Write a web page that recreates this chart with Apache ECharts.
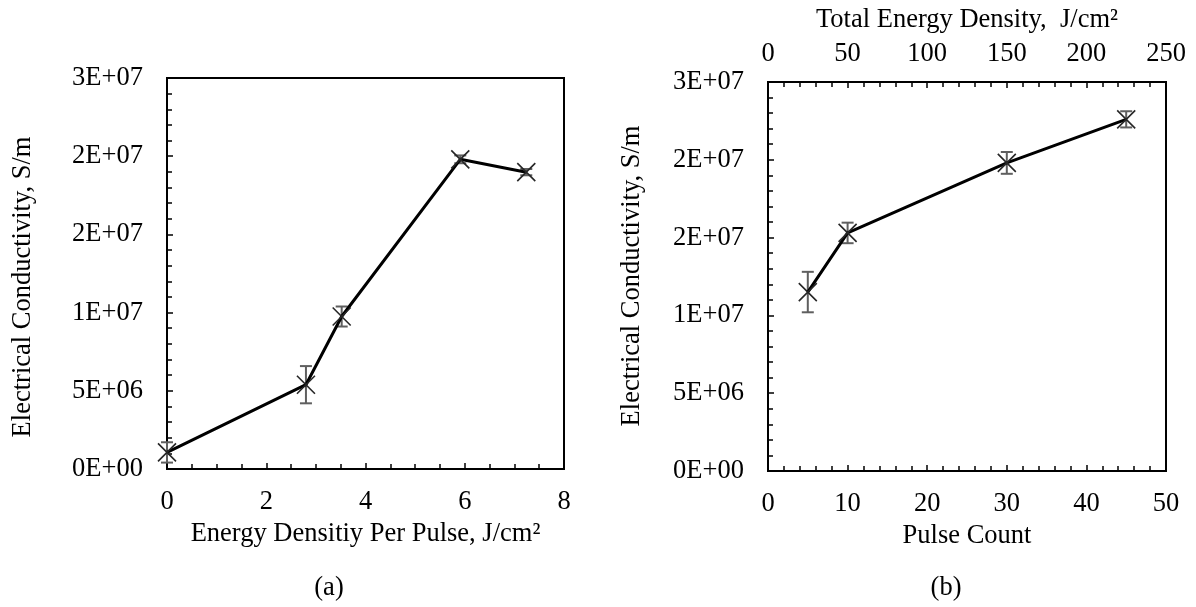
<!DOCTYPE html>
<html>
<head>
<meta charset="utf-8">
<script src="https://cdn.jsdelivr.net/npm/echarts@6/dist/echarts.min.js"></script>
<style>
html,body{margin:0;padding:0;background:#fff;}
#c{width:1196px;height:607px;}
</style>
</head>
<body>
<div id="c"></div>
<script>
// ---- data ----
const aX = [0, 2.8, 3.52, 5.91, 7.24];                 // energy density per pulse, J/cm2
const aY = [1.06e6, 5.39e6, 9.75e6, 19.8e6, 18.98e6];  // conductivity, S/m
const aErr = [0.65e6, 1.19e6, 0.64e6, 0.25e6, 0.2e6];

const bX = [5, 10, 30, 45];                            // pulse count
const bY = [11.5e6, 15.3e6, 19.8e6, 22.6e6];
const bErr = [1.3e6, 0.66e6, 0.7e6, 0.52e6];

const yTickLabels = ['0E+00', '5E+06', '1E+07', '2E+07', '2E+07', '3E+07'];

const FONT = 'Liberation Serif';
const FS = 26.5;

const chart = echarts.init(document.getElementById('c'), null, {renderer: 'canvas'});

function pairs(xs, ys) { return xs.map((x, i) => [x, ys[i]]); }
function errData(xs, ys, es) { return xs.map((x, i) => [x, ys[i] - es[i], ys[i] + es[i]]); }

function errSeries(xi, yi, data) {
  return {
    type: 'custom', xAxisIndex: xi, yAxisIndex: yi, z: 3,
    renderItem: function (params, api) {
      const x = api.value(0);
      const lo = api.coord([x, api.value(1)]);
      const hi = api.coord([x, api.value(2)]);
      const w = 6;
      const st = {stroke: '#5f5f5f', lineWidth: 2};
      return {
        type: 'group',
        children: [
          {type: 'line', shape: {x1: lo[0], y1: lo[1], x2: hi[0], y2: hi[1]}, style: st},
          {type: 'line', shape: {x1: lo[0] - w, y1: lo[1], x2: lo[0] + w, y2: lo[1]}, style: st},
          {type: 'line', shape: {x1: hi[0] - w, y1: hi[1], x2: hi[0] + w, y2: hi[1]}, style: st}
        ]
      };
    },
    data: data,
    silent: true
  };
}

const tickStyle = {color: '#000', width: 1.5};
const axisLineStyle = {color: '#000', width: 2};
const labelStyle = {color: '#000', fontFamily: FONT, fontSize: FS};
const nameStyle = {color: '#000', fontFamily: FONT, fontSize: FS};

function yAxisDef(gi) {
  return {
    type: 'value', gridIndex: gi, min: 0, max: 25e6, interval: 5e6,
    axisLine: {show: true, lineStyle: axisLineStyle},
    axisTick: {show: true, inside: true, length: 6, lineStyle: tickStyle},
    minorTick: {show: true, splitNumber: 5, length: 5, lineStyle: tickStyle},
    splitLine: {show: false},
    axisLabel: {margin: 24, ...labelStyle, formatter: v => yTickLabels[Math.round(v / 5e6)]}
  };
}

const markerPath = 'path://M0 0L10 10M10 0L0 10';
const txtFont = FS + 'px "' + FONT + '"';

const option = {
  animation: false,
  backgroundColor: '#fff',
  grid: [
    {left: 167, top: 78, width: 397, height: 391, show: true, borderColor: '#000', borderWidth: 2, backgroundColor: 'transparent'},
    {left: 768, top: 82, width: 398, height: 389, show: true, borderColor: '#000', borderWidth: 2, backgroundColor: 'transparent'}
  ],
  xAxis: [
    {
      type: 'value', gridIndex: 0, min: 0, max: 8, interval: 2,
      axisLine: {show: true, onZero: false, lineStyle: axisLineStyle},
      axisTick: {show: true, inside: true, length: 6, lineStyle: tickStyle},
      minorTick: {show: true, splitNumber: 4, length: 5, lineStyle: tickStyle},
      splitLine: {show: false},
      axisLabel: {margin: 20, ...labelStyle},
      name: 'Energy Densitiy Per Pulse, J/cm²', nameLocation: 'middle', nameGap: 50,
      nameTextStyle: nameStyle
    },
    {
      type: 'value', gridIndex: 1, min: 0, max: 50, interval: 10,
      axisLine: {show: true, onZero: false, lineStyle: axisLineStyle},
      axisTick: {show: true, inside: true, length: 6, lineStyle: tickStyle},
      minorTick: {show: true, splitNumber: 5, length: 5, lineStyle: tickStyle},
      splitLine: {show: false},
      axisLabel: {margin: 20, ...labelStyle},
      name: 'Pulse Count', nameLocation: 'middle', nameGap: 41,
      nameTextStyle: nameStyle
    },
    {
      type: 'value', gridIndex: 1, position: 'top', min: 0, max: 250, interval: 50,
      axisLine: {show: true, onZero: false, lineStyle: axisLineStyle},
      axisTick: {show: true, inside: true, length: 6, lineStyle: tickStyle},
      minorTick: {show: true, splitNumber: 5, length: 5, lineStyle: tickStyle},
      splitLine: {show: false},
      axisLabel: {margin: 14, ...labelStyle},
      name: 'Total Energy Density,  J/cm²', nameLocation: 'middle', nameGap: 48,
      nameTextStyle: nameStyle
    }
  ],
  yAxis: [yAxisDef(0), yAxisDef(1)],
  series: [
    errSeries(0, 0, errData(aX, aY, aErr)),
    errSeries(1, 1, errData(bX, bY, bErr)),
    {
      type: 'line', xAxisIndex: 0, yAxisIndex: 0, z: 4,
      data: pairs(aX, aY),
      lineStyle: {color: '#000', width: 3},
      symbol: markerPath, symbolSize: 18,
      itemStyle: {color: 'rgba(0,0,0,0)', borderColor: '#262626', borderWidth: 1.6},
      silent: true
    },
    {
      type: 'line', xAxisIndex: 1, yAxisIndex: 1, z: 4,
      data: pairs(bX, bY),
      lineStyle: {color: '#000', width: 3},
      symbol: markerPath, symbolSize: 18,
      itemStyle: {color: 'rgba(0,0,0,0)', borderColor: '#262626', borderWidth: 1.6},
      silent: true
    }
  ],
  graphic: [
    {type: 'text', x: 23, y: 287, rotation: Math.PI / 2,
     style: {text: 'Electrical Conductivity, S/m', font: txtFont, fill: '#000', align: 'center', verticalAlign: 'middle'}},
    {type: 'text', x: 632, y: 276, rotation: Math.PI / 2,
     style: {text: 'Electrical Conductivity, S/m', font: txtFont, fill: '#000', align: 'center', verticalAlign: 'middle'}},
    {type: 'text', x: 329, y: 588,
     style: {text: '(a)', font: txtFont, fill: '#000', align: 'center', verticalAlign: 'middle'}},
    {type: 'text', x: 946, y: 588,
     style: {text: '(b)', font: txtFont, fill: '#000', align: 'center', verticalAlign: 'middle'}}
  ]
};
chart.setOption(option);
</script>
</body>
</html>
